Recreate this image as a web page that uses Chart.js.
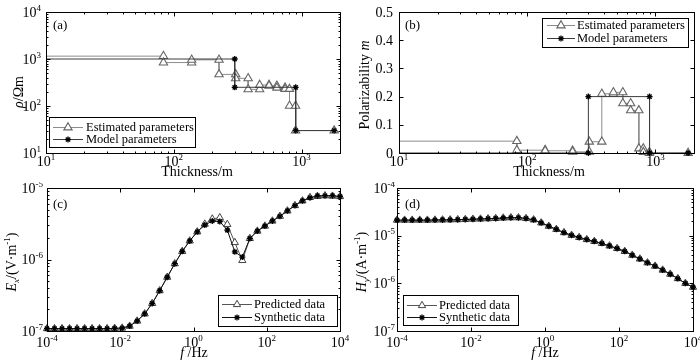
<!DOCTYPE html>
<html>
<head>
<meta charset="utf-8">
<script src="https://cdn.jsdelivr.net/npm/chart.js@4.4.1/dist/chart.umd.min.js"></script>
<style>
  body { margin: 0; background: #fff; }
  #wrap { position: relative; width: 700px; height: 364px; }
  canvas { position: absolute; }
</style>
</head>
<body>
<div id="wrap">
  <canvas id="pa" width="350" height="182" style="left:0;top:0"></canvas>
  <canvas id="pb" width="350" height="182" style="left:350px;top:0"></canvas>
  <canvas id="pc" width="350" height="182" style="left:0;top:182px"></canvas>
  <canvas id="pd" width="350" height="182" style="left:350px;top:182px"></canvas>
</div>
<script>
'use strict';

// layered models (bottom depth of each layer, last layer is the half-space)
var estDepths = [83, 138, 226, 305, 382, 470, 557, 641, 743, 805, 898];
var estRho = [1150, 840, 960, 470, 388, 226, 280, 268, 245, 230, 101, 30];
var estM = [0.042, 0.010, 0.008, 0.004, 0.040, 0.210, 0.215, 0.176, 0.151, 0.016, 0.003, 0];
var modelDepths = [300, 900];
var modelRho = [1000, 250, 30];
var modelM = [0, 0.2, 0];
var halfSpaceEnd = 1800;

// frequency responses
var freqs = [1.000e-4, 1.604e-4, 2.572e-4, 4.125e-4, 6.615e-4, 1.061e-3, 1.701e-3, 2.728e-3, 4.375e-3, 7.017e-3,
             1.125e-2, 1.805e-2, 2.894e-2, 4.642e-2, 7.444e-2, 0.1194, 0.1915, 0.3071, 0.4924, 0.7897,
             1.266, 2.031, 3.257, 5.223, 8.377, 13.43, 21.54, 34.55, 55.41, 88.86,
             142.5, 228.6, 366.6, 587.9, 942.8, 1512, 2424, 3888, 6236, 10000];
var exPredicted = [1.08e-7, 1.08e-7, 1.08e-7, 1.08e-7, 1.08e-7, 1.08e-7, 1.08e-7, 1.08e-7, 1.08e-7, 1.09e-7,
                   1.10e-7, 1.17e-7, 1.38e-7, 1.74e-7, 2.43e-7, 3.67e-7, 5.66e-7, 8.73e-7, 1.30e-6, 1.82e-6,
                   2.44e-6, 3.13e-6, 3.69e-6, 3.85e-6, 3.10e-6, 1.73e-6, 0.97e-6, 1.97e-6, 2.50e-6, 2.94e-6,
                   3.46e-6, 4.03e-6, 4.79e-6, 5.69e-6, 6.62e-6, 7.38e-6, 7.63e-6, 7.80e-6, 7.70e-6, 7.60e-6];
var exSynthetic = [1.08e-7, 1.08e-7, 1.08e-7, 1.08e-7, 1.08e-7, 1.08e-7, 1.08e-7, 1.08e-7, 1.08e-7, 1.09e-7,
                   1.10e-7, 1.17e-7, 1.38e-7, 1.74e-7, 2.43e-7, 3.67e-7, 5.66e-7, 8.73e-7, 1.30e-6, 1.82e-6,
                   2.44e-6, 3.03e-6, 3.46e-6, 3.39e-6, 2.58e-6, 1.28e-6, 1.08e-6, 1.97e-6, 2.50e-6, 2.94e-6,
                   3.46e-6, 4.03e-6, 4.79e-6, 5.69e-6, 6.62e-6, 7.30e-6, 7.79e-6, 7.80e-6, 7.80e-6, 7.60e-6];
var hyPredicted = [2.12e-5, 2.12e-5, 2.12e-5, 2.12e-5, 2.12e-5, 2.13e-5, 2.14e-5, 2.15e-5, 2.17e-5, 2.19e-5,
                   2.22e-5, 2.24e-5, 2.27e-5, 2.30e-5, 2.35e-5, 2.38e-5, 2.38e-5, 2.30e-5, 2.15e-5, 1.86e-5,
                   1.58e-5, 1.36e-5, 1.16e-5, 1.02e-5, 9.2e-6, 8.3e-6, 7.6e-6, 6.9e-6, 6.1e-6, 5.4e-6,
                   4.7e-6, 3.9e-6, 3.25e-6, 2.7e-6, 2.3e-6, 1.9e-6, 1.56e-6, 1.26e-6, 1.0e-6, 8.3e-7];
var hySynthetic = [2.12e-5, 2.12e-5, 2.12e-5, 2.12e-5, 2.12e-5, 2.13e-5, 2.14e-5, 2.15e-5, 2.17e-5, 2.19e-5,
                   2.22e-5, 2.24e-5, 2.27e-5, 2.30e-5, 2.35e-5, 2.38e-5, 2.38e-5, 2.30e-5, 2.15e-5, 1.86e-5,
                   1.58e-5, 1.36e-5, 1.16e-5, 1.02e-5, 9.2e-6, 8.3e-6, 7.6e-6, 6.9e-6, 6.1e-6, 5.4e-6,
                   4.7e-6, 3.9e-6, 3.25e-6, 2.7e-6, 2.3e-6, 1.9e-6, 1.56e-6, 1.26e-6, 1.0e-6, 8.3e-7];

// axis ticks
var depthTicks = [10, 100, 1000];
var rhoTicks = [10, 100, 1000, 10000];
var mTicks = [0, 0.1, 0.2, 0.3, 0.4, 0.5];
var freqTicks = [1e-4, 1e-2, 1, 1e2, 1e4];
var exTicks = [1e-7, 1e-6, 1e-5];
var hyTicks = [1e-7, 1e-6, 1e-5, 1e-4];

var SERIF = '"Liberation Serif", "Times New Roman", serif';

function stairs(depths, values) {
    var pts = [], top = 1;
    values.forEach(function(v, i) {
        var bottom = i < depths.length ? depths[i] : halfSpaceEnd;
        pts.push({x: top, y: v}, {x: bottom, y: v});
        top = bottom;
    });
    return pts;
}

function pairs(xs, ys) {
    return xs.map(function(x, i) { return {x: x, y: ys[i]}; });
}

function sci(v) {
    return [{t: '10'}, {t: String(Math.round(Math.log10(v))), sup: true}];
}

function plain(v) {
    return [{t: String(v)}];
}

function rich(ctx, parts, x, y, size, align, rotate) {
    ctx.save();
    ctx.translate(x, y);
    if (rotate) ctx.rotate(-Math.PI / 2);
    ctx.textAlign = 'left';
    ctx.textBaseline = 'alphabetic';
    var w = 0;
    var sized = parts.map(function(p) {
        var s = (p.sup || p.sub) ? Math.round(size * 0.64) : size;
        var f = (p.i ? 'italic ' : '') + s + 'px ' + SERIF;
        ctx.font = f;
        var pw = ctx.measureText(p.t).width;
        w += pw;
        return {p: p, f: f, w: pw};
    });
    var cx = align === 'center' ? -w / 2 : (align === 'right' ? -w : 0);
    sized.forEach(function(q) {
        ctx.font = q.f;
        var dy = q.p.sup ? -size * 0.42 : (q.p.sub ? size * 0.24 : 0);
        ctx.fillText(q.p.t, cx, dy);
        cx += q.w;
    });
    ctx.restore();
}

function tickList(values, minor, scale) {
    var out = values.map(function(v) { return {v: v, major: true}; });
    if (minor) {
        var lo = Math.floor(Math.log10(scale.min)), hi = Math.ceil(Math.log10(scale.max));
        for (var e = lo; e <= hi; e++) {
            for (var m = 2; m <= 9; m++) {
                var v = m * Math.pow(10, e);
                if (v > scale.min && v < scale.max) out.push({v: v, major: false});
            }
        }
    }
    return out;
}

function seg(ctx, x1, y1, x2, y2) {
    ctx.beginPath();
    ctx.moveTo(x1, y1);
    ctx.lineTo(x2, y2);
    ctx.stroke();
}

var frames = {};

var framePlugin = {
    id: 'frame',
    afterDatasetsDraw: function(chart) {
        var f = frames[chart.canvas.id];
        var ctx = chart.ctx, a = chart.chartArea;
        var xs = chart.scales.x, ys = chart.scales.y;
        var L = Math.round(a.left) + 0.5, R = Math.round(a.right) + 0.5;
        var T = Math.round(a.top) + 0.5, B = Math.round(a.bottom) + 0.5;
        ctx.save();
        ctx.strokeStyle = '#000';
        ctx.lineWidth = 1;
        ctx.strokeRect(L, T, R - L, B - T);

        tickList(f.xTicks, f.xMinor, xs).forEach(function(t) {
            var px = Math.round(xs.getPixelForValue(t.v)) + 0.5, len = t.major ? 4 : 2;
            seg(ctx, px, B, px, B - len);
            seg(ctx, px, T, px, T + len);
        });
        tickList(f.yTicks, f.yMinor, ys).forEach(function(t) {
            var py = Math.round(ys.getPixelForValue(t.v)) + 0.5, len = t.major ? 4 : 2;
            seg(ctx, L, py, L + len, py);
            seg(ctx, R, py, R - len, py);
        });

        ctx.fillStyle = '#000';
        f.xTicks.forEach(function(v) {
            rich(ctx, f.xFmt(v), xs.getPixelForValue(v), f.xLabelY, 14, 'center');
        });
        f.yTicks.forEach(function(v) {
            rich(ctx, f.yFmt(v), f.yLabelX, ys.getPixelForValue(v) + 4.5, 14, 'right');
        });

        rich(ctx, f.xTitle, f.xTitlePos[0], f.xTitlePos[1], 14, 'center');
        rich(ctx, f.yTitle, f.yTitlePos[0], f.yTitlePos[1], 14, 'center', true);
        rich(ctx, [{t: f.tag}], f.tagPos[0], f.tagPos[1], 13, 'left');

        // legend box
        var lg = f.legend;
        ctx.fillStyle = '#fff';
        ctx.fillRect(lg.box[0], lg.box[1], lg.box[2] - lg.box[0], lg.box[3] - lg.box[1]);
        ctx.strokeStyle = '#000';
        ctx.strokeRect(Math.round(lg.box[0]) + 0.5, Math.round(lg.box[1]) + 0.5,
                       Math.round(lg.box[2] - lg.box[0]), Math.round(lg.box[3] - lg.box[1]));
        lg.labels.forEach(function(label, i) {
            var ds = chart.data.datasets[i];
            var y = Math.round(lg.rows[i]) + 0.5;
            ctx.strokeStyle = ds.borderColor;
            ctx.lineWidth = 1;
            seg(ctx, lg.line[0], y, lg.line[1], y);
            ctx.strokeStyle = ds.pointBorderColor;
            ctx.fillStyle = ds.pointBackgroundColor;
            ctx.lineWidth = ds.pointBorderWidth;
            Chart.helpers.drawPoint(ctx, {pointStyle: ds.pointStyle, radius: ds.pointRadius,
                                          borderWidth: ds.pointBorderWidth, rotation: 0},
                                    (lg.line[0] + lg.line[1]) / 2, y);
            ctx.fillStyle = '#000';
            rich(ctx, [{t: label}], lg.textX, lg.rows[i] + 4.2, 12.5, 'left');
        });
        ctx.restore();
    }
};

function makeChart(id, datasets, xScale, yScale, pad) {
    return new Chart(document.getElementById(id), {
        type: 'line',
        data: {datasets: datasets},
        options: {
            responsive: false,
            animation: false,
            devicePixelRatio: 1,
            layout: {padding: pad},
            plugins: {legend: {display: false}, tooltip: {enabled: false}},
            scales: {x: xScale, y: yScale},
            elements: {line: {tension: 0}}
        },
        plugins: [framePlugin]
    });
}

var sideClip = {left: 0, top: false, right: false, bottom: false};

function estSet(data) {
    return {data: data, borderColor: '#8c8c8c', borderWidth: 1, pointStyle: 'triangle', pointRadius: 4.8,
            pointBorderColor: '#666', pointBackgroundColor: '#fff', pointBorderWidth: 1.1,
            clip: sideClip, order: 1};
}

function modelSet(data) {
    return {data: data, borderColor: '#3c3c3c', borderWidth: 1, pointStyle: 'star', pointRadius: 3,
            pointBorderColor: '#000', pointBackgroundColor: '#000', pointBorderWidth: 1.3,
            clip: sideClip, order: 0};
}

function predSet(data) {
    return {data: data, borderColor: '#555', borderWidth: 1, pointStyle: 'triangle', pointRadius: 4.2,
            pointBorderColor: '#444', pointBackgroundColor: '#fff', pointBorderWidth: 1,
            clip: false, order: 1};
}

function synthSet(data) {
    return {data: data, borderColor: '#111', borderWidth: 1, pointStyle: 'star', pointRadius: 3,
            pointBorderColor: '#000', pointBackgroundColor: '#000', pointBorderWidth: 1.3,
            clip: false, order: 0};
}

var depthAxis = {type: 'logarithmic', min: 10, max: 2000, display: false};
var freqAxis = {type: 'logarithmic', min: 1e-4, max: 1e4, display: false};

// (a) resistivity
frames.pa = {
    xTicks: depthTicks, xMinor: true, xFmt: sci, xLabelY: 166,
    yTicks: rhoTicks, yMinor: true, yFmt: sci, yLabelX: 41,
    xTitle: [{t: 'Thickness/m'}], xTitlePos: [197, 176],
    yTitle: [{t: 'ρ', i: true}, {t: '/Ωm'}], yTitlePos: [23, 92],
    tag: '(a)', tagPos: [53, 29],
    legend: {box: [49, 117, 195, 147], rows: [126.5, 139], line: [53, 83], textX: 86,
             labels: ['Estimated parameters', 'Model parameters']}
};
makeChart('pa', [estSet(stairs(estDepths, estRho)), modelSet(stairs(modelDepths, modelRho))],
          depthAxis, {type: 'logarithmic', min: 10, max: 10000, display: false},
          {left: 46, top: 12, right: 10, bottom: 29});

// (b) polarizability
frames.pb = {
    xTicks: depthTicks, xMinor: true, xFmt: sci, xLabelY: 166,
    yTicks: mTicks, yMinor: false, yFmt: plain, yLabelX: 43,
    xTitle: [{t: 'Thickness/m'}], xTitlePos: [199, 176],
    yTitle: [{t: 'Polarizability '}, {t: 'm', i: true}], yTitlePos: [19, 85],
    tag: '(b)', tagPos: [55, 29],
    legend: {box: [192, 18, 338, 47], rows: [24.5, 37.5], line: [197, 225], textX: 227,
             labels: ['Estimated parameters', 'Model parameters']}
};
makeChart('pb', [estSet(stairs(estDepths, estM)), modelSet(stairs(modelDepths, modelM))],
          depthAxis, {type: 'linear', min: 0, max: 0.5, display: false},
          {left: 49, top: 12, right: 6, bottom: 29});

// (c) electric field
frames.pc = {
    xTicks: freqTicks, xMinor: false, xFmt: sci, xLabelY: 165,
    yTicks: exTicks, yMinor: true, yFmt: sci, yLabelX: 43,
    xTitle: [{t: 'f', i: true}, {t: ' /Hz'}], xTitlePos: [194, 175],
    yTitle: [{t: 'E', i: true}, {t: 'x', i: true, sub: true}, {t: '/(V·m'}, {t: '-1', sup: true}, {t: ')'}],
    yTitlePos: [16, 80],
    tag: '(c)', tagPos: [53, 26],
    legend: {box: [218, 113, 337, 144], rows: [121.5, 135], line: [222, 252], textX: 254,
             labels: ['Predicted data', 'Synthetic data']}
};
makeChart('pc', [predSet(pairs(freqs, exPredicted)), synthSet(pairs(freqs, exSynthetic))],
          freqAxis, {type: 'logarithmic', min: 1e-7, max: 1e-5, display: false},
          {left: 47, top: 6, right: 10, bottom: 33});

// (d) magnetic field
frames.pd = {
    xTicks: freqTicks, xMinor: false, xFmt: sci, xLabelY: 165,
    yTicks: hyTicks, yMinor: true, yFmt: sci, yLabelX: 45,
    xTitle: [{t: 'f', i: true}, {t: ' /Hz'}], xTitlePos: [195, 175],
    yTitle: [{t: 'H', i: true}, {t: 'y', i: true, sub: true}, {t: '/(A·m'}, {t: '-1', sup: true}, {t: ')'}],
    yTitlePos: [16, 80],
    tag: '(d)', tagPos: [55, 26],
    legend: {box: [53, 113, 168, 143], rows: [123, 135], line: [57, 87], textX: 89,
             labels: ['Predicted data', 'Synthetic data']}
};
makeChart('pd', [predSet(pairs(freqs, hyPredicted)), synthSet(pairs(freqs, hySynthetic))],
          freqAxis, {type: 'logarithmic', min: 1e-7, max: 1e-4, display: false},
          {left: 47, top: 6, right: 7, bottom: 33});
</script>
</body>
</html>
